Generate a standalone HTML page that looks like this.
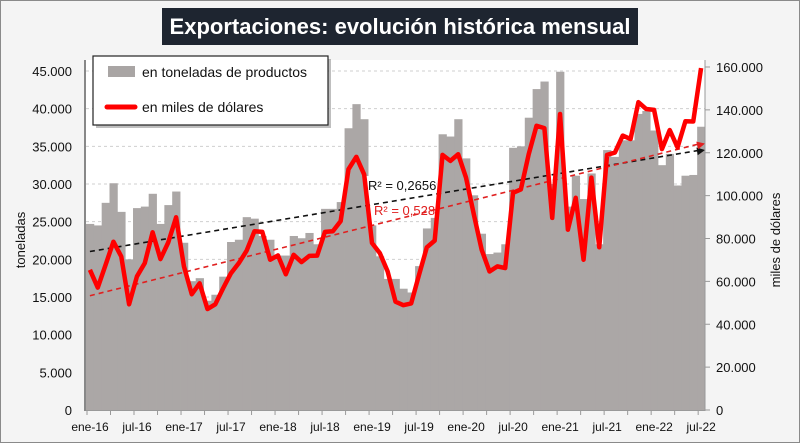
<!DOCTYPE html>
<html><head><meta charset="utf-8"><style>
body{margin:0;background:#fff}
svg{display:block;font-family:"Liberation Sans",sans-serif}
</style></head><body>
<svg id="chart" width="800" height="443" viewBox="0 0 800 443">
<rect x="0.5" y="0.5" width="799" height="442" fill="#f4f4f4" stroke="#8a8a8a"/>
<rect x="85" y="60" width="620" height="351" fill="#fff"/>
<g id="grid"></g>
<g id="bars"></g>
<g id="trends"></g>
<g id="line"></g>
<g id="axes"></g>
<rect x="162" y="8" width="476" height="37" fill="#1e2530"/>
<text x="400" y="34" text-anchor="middle" fill="#fff" font-size="22" font-weight="bold">Exportaciones: evolución histórica mensual</text>
<g>
<rect x="96" y="59" width="235" height="69" fill="#000" opacity="0.25"/>
<rect x="93" y="56" width="235" height="69" fill="#fff" stroke="#222" stroke-width="1.2"/>
<rect x="108" y="66" width="27" height="11" fill="#a9a5a4"/>
<text x="142" y="77" font-size="14" fill="#111">en toneladas de productos</text>
<line x1="107" y1="107" x2="135" y2="107" stroke="#f00" stroke-width="5" stroke-linecap="round"/>
<text x="142" y="112" font-size="14" fill="#111">en miles de dólares</text>
</g>
<text transform="translate(25,240) rotate(-90)" text-anchor="middle" font-size="13" fill="#111">toneladas</text>
<text transform="translate(780,240) rotate(-90)" text-anchor="middle" font-size="13" fill="#111">miles de dólares</text>
</svg>
<script>
const ns="http://www.w3.org/2000/svg";
const tons=[24700,24500,27500,30100,26300,20000,26800,27000,28700,24700,27200,29000,
22200,17100,17500,14500,15300,17700,22300,22600,25600,25400,23100,22600,
20500,20500,23100,22800,23500,22000,26700,26700,27600,37400,40600,38600,
24500,20400,17400,17400,16100,15600,19100,24100,25500,36600,36300,38600,
33400,28500,23400,20700,20900,22000,34800,35000,38800,42600,43600,30000,
44900,27000,31100,28000,31400,22000,34500,33600,35800,35800,39300,39700,
37100,32500,34000,29800,31100,31200,37600];
const usd=[65400,57100,67700,78500,71600,49300,62300,68500,82900,70400,78200,89900,
67000,54000,59100,47100,49300,56800,63800,68500,74300,83400,83100,70100,
72100,63300,72400,69000,71900,72000,83100,83400,88100,112300,118100,109900,
77900,73200,64600,50500,48900,49700,63000,75900,79000,119000,116200,119300,
108400,91200,74700,64600,67000,66200,101300,102900,119300,132600,131500,89600,
138100,84100,99000,70100,108400,75900,119000,120100,128000,126400,143600,140400,
140000,121700,130600,122500,134700,134600,159500];
const xLabels=["ene-16","jul-16","ene-17","jul-17","ene-18","jul-18","ene-19","jul-19","ene-20","jul-20","ene-21","jul-21","ene-22","jul-22"];
const leftTicks=[0,5000,10000,15000,20000,25000,30000,35000,40000,45000];
const rightTicks=[0,20000,40000,60000,80000,100000,120000,140000,160000];
const r2Tons="R² = 0,2656", r2Usd="R² = 0,528";

const X0=86,X1=705,N=tons.length,bw=(X1-X0)/N;
const xC=i=>X0+bw*(i+0.5);
const yL=v=>410-v*(410-71)/45000;
const yR=v=>410-v*(410-67)/160000;
const fmt=v=>v.toString().replace(/\B(?=(\d{3})+(?!\d))/g,".");
function mk(tag,attrs,parent){const e=document.createElementNS(ns,tag);for(const k in attrs)e.setAttribute(k,attrs[k]);document.getElementById(parent).appendChild(e);return e;}

leftTicks.forEach(t=>{
  if(t>0){const g=mk("line",{x1:X0,x2:X1,y1:yL(t),y2:yL(t),stroke:"#cfcfcf","stroke-dasharray":"3,3"},"grid");
  
  }
  const tx=mk("text",{x:72,y:yL(t)+5,"text-anchor":"end","font-size":"13",fill:"#111"},"axes");
  tx.textContent=fmt(t);
  
  
});
rightTicks.forEach(t=>{
  const tx=mk("text",{x:716,y:yR(t)+5,"font-size":"13",fill:"#111"},"axes");
  tx.textContent=fmt(t);
  
  
  const tk=mk("line",{x1:705,x2:710,y1:yR(t),y2:yR(t),stroke:"#999"},"axes");
  
  
});
tons.forEach((v,i)=>{
  const b=mk("rect",{x:X0+bw*i,y:yL(v),width:bw+0.4,height:410-yL(v),fill:"#aba7a6"},"bars");
  
  
});
const pl=mk("polyline",{points:usd.map((v,i)=>xC(i)+","+yR(Math.min(v,160000))).join(" "),fill:"none",stroke:"#f00","stroke-width":"4.5","stroke-linejoin":"round"},"line");



function reg(a){const n=a.length;let sx=0,sy=0,sxx=0,sxy=0;a.forEach((v,i)=>{sx+=i;sy+=v;sxx+=i*i;sxy+=i*v});const m=(n*sxy-sx*sy)/(n*sxx-sx*sx);return [m,(sy-m*sx)/n];}
function trend(a,yf,col,name){
  const [m,b]=reg(a);const n=a.length;
  const x1=xC(0),y1=yf(b),x2=xC(n-1),y2=yf(b+m*(n-1));
  const l=mk("line",{x1:x1,y1:y1,x2:x2,y2:y2,stroke:col,"stroke-width":"1.6","stroke-dasharray":"5,4"},"trends");
  
  
  const ang=Math.atan2(y2-y1,x2-x1),s=9;
  const p=[[x2+4,y2],[x2+4-s*Math.cos(ang-0.45),y2-s*Math.sin(ang-0.45)],[x2+4-s*Math.cos(ang+0.45),y2-s*Math.sin(ang+0.45)]];
  const h=mk("polygon",{points:p.map(q=>q.join(",")).join(" "),fill:col},"trends");
  
  
}
trend(tons,yL,"#111","trendline-toneladas");
trend(usd,yR,"#e02020","trendline-dolares");

const bg1=mk("rect",{x:366,y:176,width:70,height:17,fill:"#fff"},"trends");


const t1=mk("text",{x:368,y:190,"font-size":"13",fill:"#111"},"trends");
t1.textContent=r2Tons;


const t2=mk("text",{x:374,y:215,"font-size":"13",fill:"#e02020"},"trends");
t2.textContent=r2Usd;



const ax=mk("line",{x1:X0,x2:X1,y1:410.5,y2:410.5,stroke:"#999"},"axes");


const axl=mk("line",{x1:85,x2:85,y1:60,y2:411,stroke:"#888","stroke-width":"2"},"axes");


const axr=mk("line",{x1:705,x2:705,y1:60,y2:411,stroke:"#999"},"axes");


for(let i=0;i<N;i+=3){
  const tk=mk("line",{x1:X0+bw*i+1,x2:X0+bw*i+1,y1:410,y2:415,stroke:"#999"},"axes");
  
  
}
xLabels.forEach((s,k)=>{
  const tx=mk("text",{x:X0+4+bw*6*k,y:431,"text-anchor":"middle","font-size":"12",fill:"#111"},"axes");
  tx.textContent=s;
  
  
});
</script>
</body></html>
